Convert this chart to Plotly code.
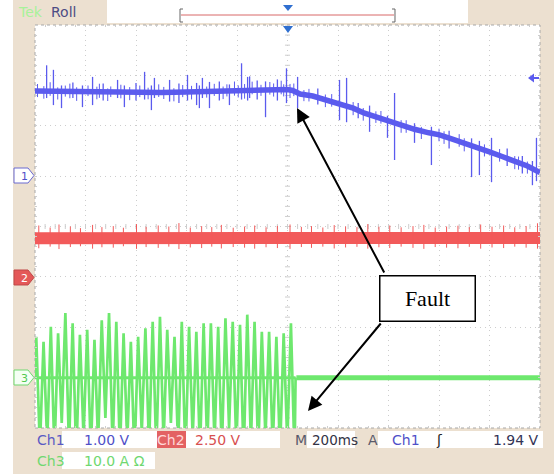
import numpy as np
import plotly.graph_objects as go

# ---------------- data ----------------
# time base: 200 ms/div, 10 div, trigger at centre (ms)
# Ch1 (1.00 V/div) slow trace, baseline
ch1_t = [-1000, -900, -800, -700, -600, -500, -400, -300, -200, -120, -60, 0, 20, 50, 100, 150,
         206, 260, 305, 360, 424, 503, 560, 602, 650, 701, 760, 800, 850, 899, 950, 1000]
ch1_v = [1.69, 1.68, 1.67, 1.66, 1.67, 1.66, 1.67, 1.68, 1.70, 1.72, 1.73, 1.72, 1.70, 1.63, 1.59, 1.52,
         1.45, 1.35, 1.25, 1.16, 1.05, 0.93, 0.86, 0.82, 0.74, 0.66, 0.56, 0.48, 0.39, 0.30, 0.20, 0.07]
# Ch1 large spikes: time, top, bottom (V)
ch1_spk_t = [-954, -927, -895, -850, -812, -772, -730, -673, -646, -600, -566, -539, -527, -467, -430,
             -396, -360, -349, -337, -309, -270, -230, -182, -158, -150, -120, -87, -40, -4,
             40, 120, 206, 234, 280, 325, 396, 424, 503, 570, 640, 729, 760, 808, 870, 930, 970, 986]
ch1_spk_hi = [2.20, 2.11, 1.80, 1.86, 1.80, 1.97, 1.84, 1.91, 1.80, 1.85, 2.07, 1.80, 1.95, 1.91, 1.84,
              2.01, 1.85, 1.80, 1.95, 1.87, 1.88, 1.82, 2.24, 1.97, 1.98, 1.90, 1.88, 1.92, 2.14,
              1.97, 1.74, 1.91, 1.95, 1.45, 1.40, 1.20, 1.65, 1.05, 0.98, 0.90, 0.75, 0.70, 0.76, 0.55, 0.40, 0.30, 0.76]
ch1_spk_lo = [1.55, 1.41, 1.35, 1.55, 1.37, 1.41, 1.50, 1.55, 1.37, 1.50, 1.52, 1.31, 1.55, 1.48, 1.45,
              1.50, 1.41, 1.35, 1.55, 1.35, 1.50, 1.41, 1.52, 1.50, 1.55, 1.52, 1.17, 1.50, 1.45,
              1.35, 1.42, 1.11, 1.07, 1.15, 0.88, 0.76, 0.32, 0.66, 0.22, 0.55, -0.02, 0.02, -0.12, 0.20, 0.05, -0.18, -0.10]
# Ch1 small noise ticks around the baseline: time, top offset, bottom offset (V)
ch1_nz_t = [-990, -965, -940, -910, -880, -862, -835, -790, -755, -745, -712, -700, -660, -625, -585,
            -552, -510, -490, -450, -415, -380, -320, -290, -255, -240, -210, -195, -170, -140, -105,
            -70, -55, -25, -15, 10, 25, 65, 85, 150, 175, 260, 300, 350, 370, 450, 470, 530, 600,
            620, 680, 700, 780, 840, 900, 915, 950]
ch1_nz_up = [0.14, 0.10, 0.18, 0.08, 0.12, 0.16, 0.09, 0.13, 0.11, 0.17, 0.08, 0.12, 0.15, 0.10, 0.13,
             0.09, 0.16, 0.11, 0.08, 0.14, 0.12, 0.10, 0.15, 0.09, 0.13, 0.18, 0.10, 0.12, 0.16, 0.09,
             0.14, 0.11, 0.17, 0.10, 0.12, 0.15, 0.09, 0.13, 0.10, 0.14, 0.12, 0.09, 0.11, 0.15, 0.10,
             0.13, 0.08, 0.12, 0.10, 0.14, 0.09, 0.11, 0.13, 0.10, 0.12, 0.09]
ch1_nz_dn = [0.12, 0.15, 0.09, 0.16, 0.10, 0.13, 0.18, 0.08, 0.14, 0.11, 0.17, 0.09, 0.12, 0.16, 0.10,
             0.14, 0.09, 0.13, 0.18, 0.10, 0.15, 0.12, 0.09, 0.16, 0.11, 0.10, 0.14, 0.17, 0.09, 0.13,
             0.11, 0.15, 0.10, 0.14, 0.16, 0.10, 0.13, 0.12, 0.15, 0.11, 0.14, 0.16, 0.12, 0.10, 0.15,
             0.12, 0.16, 0.13, 0.15, 0.11, 0.17, 0.13, 0.12, 0.16, 0.14, 0.15]

# Ch2 (2.50 V/div) flat noisy trace
ch2_t = [-1000, -500, 0, 500, 1000]
ch2_v = [1.92, 1.93, 1.93, 1.92, 1.93]
ch2_spk_t = [-985, -940, -905, -860, -820, -772, -735, -690, -650, -598, -560, -512, -470, -430, -385,
             -340, -300, -262, -215, -170, -130, -85, -40, 10, 55, 95, 140, 185, 230, 275, 318, 362,
             405, 450, 497, 540, 585, 630, 675, 720, 765, 810, 856, 900, 945, 990]
ch2_spk_hi = [2.55, 2.45, 2.60, 2.50, 2.42, 2.58, 2.47, 2.52, 2.44, 2.62, 2.48, 2.55, 2.50, 2.67, 2.45,
              2.52, 2.47, 2.58, 2.44, 2.50, 2.55, 2.46, 2.53, 2.60, 2.48, 2.52, 2.45, 2.57, 2.50, 2.47,
              2.62, 2.49, 2.55, 2.46, 2.52, 2.58, 2.45, 2.50, 2.54, 2.47, 2.60, 2.49, 2.55, 2.46, 2.52, 2.66]
ch2_spk_lo = [1.42, 1.50, 1.38, 1.48, 1.52, 1.40, 1.47, 1.45, 1.52, 1.39, 1.48, 1.44, 1.50, 1.38, 1.46,
              1.43, 1.50, 1.41, 1.48, 1.45, 1.40, 1.47, 1.43, 1.39, 1.48, 1.44, 1.50, 1.41, 1.46, 1.49,
              1.40, 1.47, 1.43, 1.50, 1.44, 1.39, 1.48, 1.45, 1.42, 1.49, 1.40, 1.46, 1.43, 1.50, 1.45, 1.40]

# Ch3 (10.0 A/div) oscillating current, peaks/troughs per cycle (A)
ch3_peaks = [8.1, 7.1, 10.1, 8.8, 12.8, 10.8, 8.5, 9.5, 7.5, 11.4, 12.8, 11.1, 8.8, 7.1, 8.1, 9.8, 11.1, 12.1,
             9.5, 8.1, 11.1, 10.1, 9.1, 10.8, 10.8, 10.1, 11.8, 11.1, 10.5, 12.5, 11.1, 9.1, 9.1, 8.1, 8.8, 10.8]
ch3_troughs = [-14, -13, -15, -9, -14, -16, -12, -15, -13, -8, -14, -15, -13, -16, -11, -14, -15, -13,
               -9, -14, -16, -12, -15, -14, -13, -15, -10, -14, -16, -13, -15, -12, -14, -15, -13, -16]
ch3_fault_t = 32          # ms where the oscillation stops
ch3_after_t = [35, 1000]
ch3_after_a = [0.0, 0.0]

# ---------------- geometry helpers ----------------
W, H = 554, 474
L, R, T, B = 35, 14, 25, 46
PW, PH = W - L - R, H - T - B


def px(x):
    return (x - L) / PW


def py(y):
    return (H - B - y) / PH


BLUE = "#5b5bee"
RED = "#f25a5a"
GREEN = "#6ee86e"

fig = go.Figure()


def segs(ts, his, los):
    xs, ys = [], []
    for t, hi, lo in zip(ts, his, los):
        xs += [t, t, None]
        ys += [lo, hi, None]
    return xs, ys


# Ch2 red band
fig.add_trace(go.Scatter(x=ch2_t, y=ch2_v, yaxis="y2", mode="lines",
                         line=dict(color=RED, width=12), hoverinfo="skip"))
sx, sy = segs(ch2_spk_t, ch2_spk_hi, ch2_spk_lo)
fig.add_trace(go.Scatter(x=sx, y=sy, yaxis="y2", mode="lines",
                         line=dict(color=RED, width=1), hoverinfo="skip"))

# Ch3 green oscillation
n = len(ch3_peaks)
ext_t = np.linspace(-995, ch3_fault_t - 4, 2 * n)
gx, gy = [-1000], [0.0]
for i in range(n):
    gx += [ext_t[2 * i], ext_t[2 * i + 1]]
    gy += [ch3_peaks[i], ch3_troughs[i]]
gx += [ch3_fault_t]
gy += [0.0]
fig.add_trace(go.Scatter(x=[-1000, ch3_fault_t], y=[0, 0], yaxis="y3", mode="lines",
                         line=dict(color=GREEN, width=3), hoverinfo="skip"))
fig.add_trace(go.Scatter(x=gx, y=gy, yaxis="y3", mode="lines",
                         line=dict(color=GREEN, width=2.7), hoverinfo="skip"))
fig.add_trace(go.Scatter(x=ch3_after_t, y=ch3_after_a, yaxis="y3", mode="lines",
                         line=dict(color=GREEN, width=5), hoverinfo="skip"))

# Ch1 blue
fig.add_trace(go.Scatter(x=ch1_t, y=ch1_v, mode="lines",
                         line=dict(color=BLUE, width=5.5), hoverinfo="skip"))
base = np.interp(ch1_nz_t, ch1_t, ch1_v)
sx, sy = segs(ch1_nz_t, base + np.array(ch1_nz_up), base - np.array(ch1_nz_dn))
fig.add_trace(go.Scatter(x=sx, y=sy, mode="lines",
                         line=dict(color=BLUE, width=1), hoverinfo="skip"))
sx, sy = segs(ch1_spk_t, ch1_spk_hi, ch1_spk_lo)
fig.add_trace(go.Scatter(x=sx, y=sy, mode="lines",
                         line=dict(color=BLUE, width=1.3), hoverinfo="skip"))

# ---------------- graticule ----------------
shapes = []
GC = "#cdcdcd"
for k in range(-25, 26):
    t = k * 40
    shapes.append(dict(type="line", xref="x", yref="y", x0=t, x1=t, y0=-1.05, y1=-0.95,
                       line=dict(color=GC, width=1), layer="below"))
for k in range(-20, 21):
    v = -1 + k * 0.2
    shapes.append(dict(type="line", xref="x", yref="y", x0=-10, x1=10, y0=v, y1=v,
                       line=dict(color=GC, width=1), layer="below"))
shapes.append(dict(type="rect", xref="paper", yref="paper", x0=0, x1=1, y0=0, y1=1,
                   line=dict(color="#a8a8a8", width=1, dash="dot"), layer="below"))

# white strip at far left
shapes.append(dict(type="rect", xref="paper", yref="paper", x0=px(0), x1=px(13), y0=py(H), y1=py(0),
                   fillcolor="white", line=dict(width=0), layer="below"))
# top white box
shapes.append(dict(type="rect", xref="paper", yref="paper", x0=px(107), x1=px(468), y0=py(23), y1=py(0),
                   fillcolor="white", line=dict(width=0), layer="below"))
shapes.append(dict(type="line", xref="paper", yref="paper", x0=px(181), x1=px(394), y0=py(15), y1=py(15),
                   line=dict(color="#d86868", width=1)))


def path(pts):
    return "M " + " L ".join(f"{px(a):.5f},{py(b):.5f}" for a, b in pts) + " Z"


def bracket(x, d):
    return "M {:.5f},{:.5f} L {:.5f},{:.5f} L {:.5f},{:.5f} L {:.5f},{:.5f}".format(
        px(x + d), py(9), px(x), py(9), px(x), py(22), px(x + d), py(22))


shapes.append(dict(type="path", xref="paper", yref="paper", path=bracket(180, 3),
                   line=dict(color="#666", width=1)))
shapes.append(dict(type="path", xref="paper", yref="paper", path=bracket(395, -3),
                   line=dict(color="#666", width=1)))
shapes.append(dict(type="path", xref="paper", yref="paper",
                   path=path([(283, 5), (293, 5), (288, 11)]), fillcolor="#2f6fd0", line=dict(width=0)))
shapes.append(dict(type="path", xref="paper", yref="paper",
                   path=path([(283, 26), (293, 26), (288, 33)]), fillcolor="#2f6fd0", line=dict(width=0)))
shapes.append(dict(type="path", xref="paper", yref="paper",
                   path=path([(528, 78), (534, 73.5), (534, 82.5)]), fillcolor=BLUE, line=dict(width=0)))
shapes.append(dict(type="line", xref="paper", yref="paper", x0=px(532), x1=px(539), y0=py(78), y1=py(78),
                   line=dict(color=BLUE, width=2)))


def marker(yc, fill, edge):
    return dict(type="path", xref="paper", yref="paper",
                path=path([(14, yc - 7.5), (28, yc - 7.5), (34, yc), (28, yc + 7.5), (14, yc + 7.5)]),
                fillcolor=fill, line=dict(color=edge, width=1))


shapes.append(marker(175.5, "white", "#6a6ad0"))
shapes.append(marker(277.5, "#e45858", "#c04848"))
shapes.append(marker(377.5, "#f4fff4", "#70d870"))

for x0, x1, y0, y1, col in [(62, 157, 431, 448, "white"), (186, 280, 431, 448, "white"),
                            (307, 355, 431, 448, "white"), (378, 543, 431, 448, "white"),
                            (62, 155, 452, 469, "white"), (157, 186, 431, 448, "#e36262")]:
    shapes.append(dict(type="rect", xref="paper", yref="paper", x0=px(x0), x1=px(x1), y0=py(y1), y1=py(y0),
                       fillcolor=col, line=dict(width=0), layer="below"))

# ---------------- texts ----------------
F = "DejaVu Sans"


def txt(x, y, s, color, size=13, anchor="left", family=F):
    return dict(x=px(x), y=py(y), xref="paper", yref="paper", text=s, showarrow=False,
                xanchor=anchor, yanchor="middle", font=dict(color=color, size=size, family=family))


ann = [
    txt(16, 12, "Tek", "#a8f29a", 14),
    txt(49, 12, "Roll", "#4c4c84", 14),
    txt(24, 176, "1", "#5050c8", 11, "center"),
    txt(24, 278, "2", "white", 11, "center"),
    txt(24, 378, "3", "#50c850", 11, "center"),
    txt(35, 440, "Ch1", "#5a5ac4", 14),
    txt(82, 440, "1.00 V", "#5050c8", 14),
    txt(171, 440, "Ch2", "#ffd8d8", 14, "center"),
    txt(193, 440, "2.50 V", "#d85050", 14),
    txt(293, 440, "M", "#5a5a6a", 14),
    txt(310, 440, "200ms", "#333344", 13.5),
    txt(366, 440, "A", "#5a5a6a", 14),
    txt(390, 440, "Ch1", "#5050c8", 14),
    txt(434, 440, "ʃ", "#222", 14),
    txt(541, 440, "1.94 V", "#333355", 14, "right"),
    txt(35, 461, "Ch3", "#70d870", 14),
    txt(82, 461, "10.0 A Ω", "#70d870", 14),
    dict(x=px(427), y=py(298), xref="paper", yref="paper", text="Fault", showarrow=False,
         xanchor="center", yanchor="middle", width=94, height=44, borderpad=0,
         bordercolor="black", borderwidth=1.5, bgcolor="white",
         font=dict(family="Liberation Serif", size=22, color="black")),
    dict(x=px(297), y=py(108), xref="paper", yref="paper", ax=88, ay=166, axref="pixel", ayref="pixel",
         text="", showarrow=True, arrowhead=2, arrowsize=1.4, arrowwidth=2, arrowcolor="black", standoff=0),
    dict(x=px(308), y=py(411), xref="paper", yref="paper", ax=74, ay=-89, axref="pixel", ayref="pixel",
         text="", showarrow=True, arrowhead=2, arrowsize=1.4, arrowwidth=2, arrowcolor="black", standoff=0),
]

fig.update_layout(
    width=W, height=H, margin=dict(l=L, r=R, t=T, b=B, pad=0),
    paper_bgcolor="#ece0d0", plot_bgcolor="white", showlegend=False,
    shapes=shapes, annotations=ann,
    xaxis=dict(range=[-1000, 1000], tick0=-1000, dtick=200, showgrid=True, gridcolor=GC,
               griddash="1px,4px", gridwidth=1, zeroline=False, showticklabels=False,
               ticks="inside", ticklen=2, tickcolor=GC, mirror="ticks", showline=False,
               minor=dict(dtick=40, ticks="inside", ticklen=2, tickcolor=GC, showgrid=False),
               fixedrange=True),
    yaxis=dict(range=[-5, 3], tick0=-5, dtick=1, showgrid=True, gridcolor=GC,
               griddash="1px,4px", gridwidth=1, zeroline=False, showticklabels=False,
               ticks="inside", ticklen=2, tickcolor=GC, mirror="ticks", showline=False,
               minor=dict(dtick=0.2, ticks="inside", ticklen=2, tickcolor=GC, showgrid=False),
               fixedrange=True),
    yaxis2=dict(range=[-7.5, 12.5], overlaying="y", visible=False, fixedrange=True),
    yaxis3=dict(range=[-10, 70], overlaying="y", visible=False, fixedrange=True),
)

fig.write_html("out.html", config={"displayModeBar": False},
               post_script="document.body.style.margin='0';document.body.style.padding='0';")
